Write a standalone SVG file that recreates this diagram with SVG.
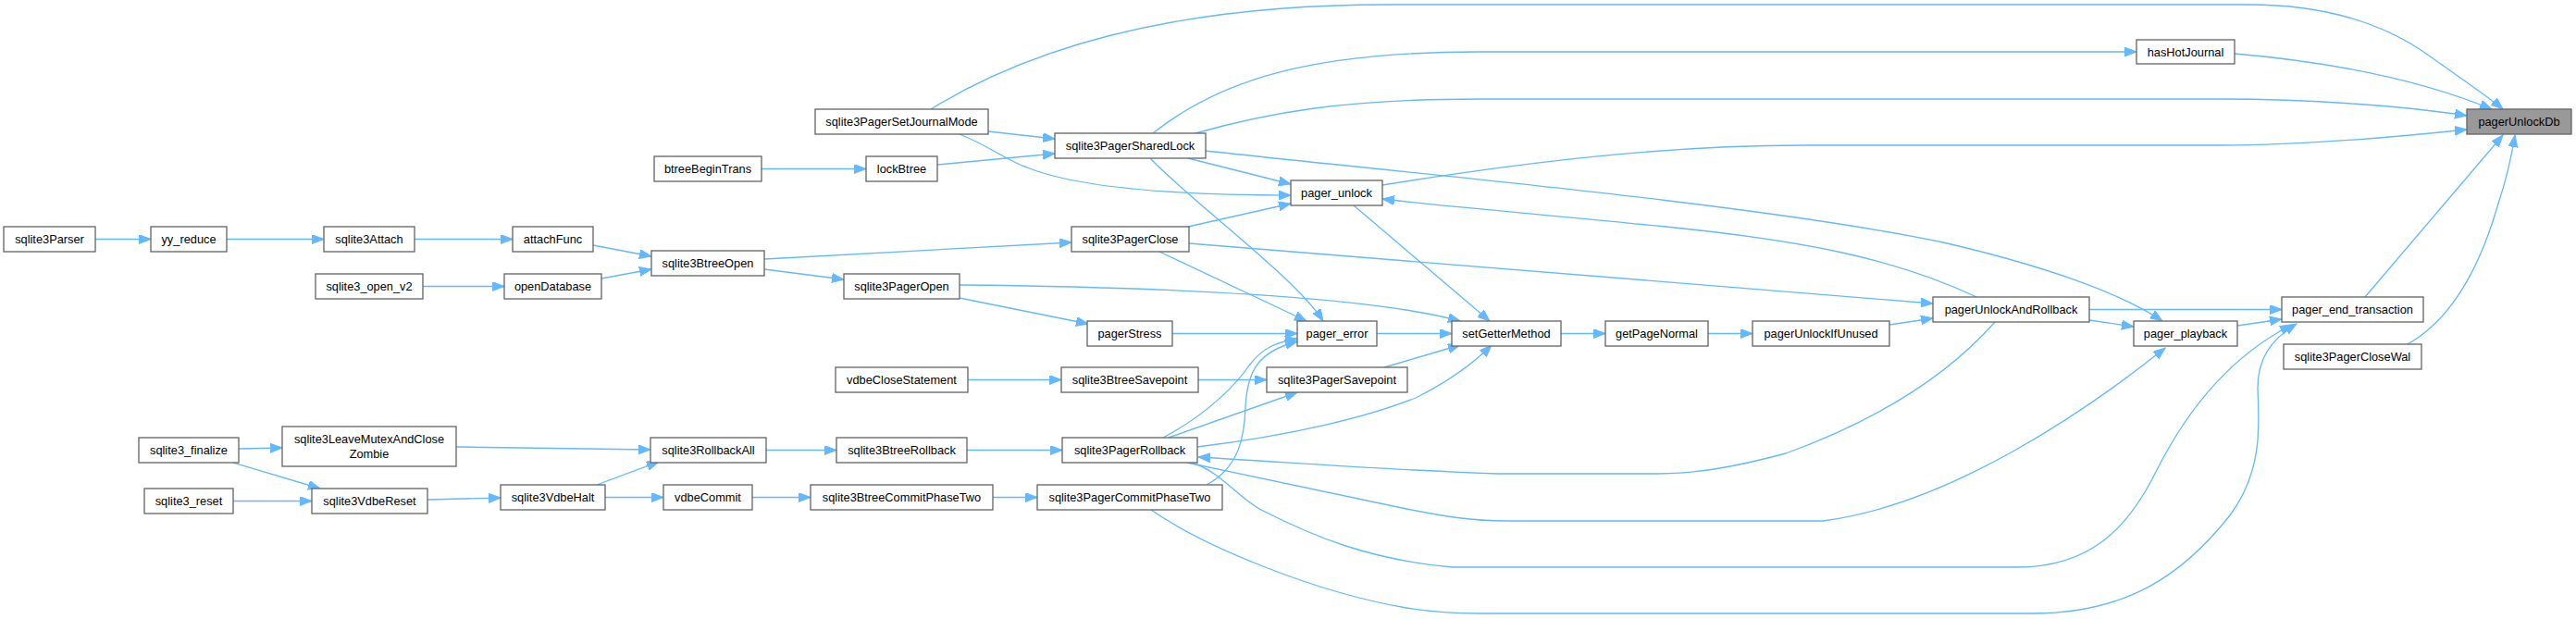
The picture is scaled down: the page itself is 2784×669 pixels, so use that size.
<svg xmlns="http://www.w3.org/2000/svg" width="2784" height="669" viewBox="0 0 2784 669">
<style>
.node rect{fill:#ffffff;stroke:#666666;stroke-width:1.33}
.root rect{fill:#999999;stroke:#666666;stroke-width:1.33}
text{font-family:"Liberation Sans",Arial,Helvetica,sans-serif;font-size:12.8px;text-anchor:middle;fill:#000000}
.edge path{fill:none;stroke:#63b8ff;stroke-width:1.33;marker-end:url(#arr)}
</style>
<defs>
<marker id="arr" markerUnits="userSpaceOnUse" markerWidth="14" markerHeight="11" refX="13" refY="5" orient="auto">
<path d="M0,0 L13,5 L0,10 z" fill="#63b8ff" stroke="#63b8ff" stroke-width="1"/>
</marker>
</defs>
<rect x="0" y="0" width="2784" height="669" fill="#ffffff"/>
<g id="edges" class="edge">
<path d="M103,258.5 L163,258.5"/>
<path d="M245,258.5 L350,258.5"/>
<path d="M448,258.5 L554,258.5"/>
<path d="M641,265 L704,277"/>
<path d="M457,309.5 L545,309.5"/>
<path d="M650,301 L704,291"/>
<path d="M826,280 L1158,262"/>
<path d="M826,291 L912,302"/>
<path d="M823,182.5 L936,182.5"/>
<path d="M1013,178 L1140,166"/>
<path d="M1068,142 L1140,150"/>
<path d="M1037,145 C1070,158 1085,172 1110,181 C1170,205 1290,211 1395,211"/>
<path d="M1006,118 C1100,60 1250,5 1500,5 L2430,5 C2530,5 2590,35 2625,60 C2660,85 2690,105 2705,118"/>
<path d="M1246,144 C1320,85 1420,56 1600,56 L2309,56"/>
<path d="M1292,144 C1370,122 1450,107 1600,107 L2400,107 C2500,107 2600,115 2666,125"/>
<path d="M1284,171 L1395,199"/>
<path d="M1243,171 C1290,220 1400,300 1430,347"/>
<path d="M1303,163 C1500,185 1900,220 2100,262 C2200,285 2290,315 2337,347"/>
<path d="M2415,58 C2530,68 2620,88 2693,118"/>
<path d="M1494,200 C1650,175 1800,157 1950,157 L2400,157 C2500,157 2600,147 2666,140"/>
<path d="M1284,245 L1395,220"/>
<path d="M1253,272 L1412,347"/>
<path d="M1285,263 L2089,328"/>
<path d="M1037,308 C1250,310 1480,320 1578,347"/>
<path d="M1037,322 L1176,350"/>
<path d="M1463,222 L1610,347"/>
<path d="M1267,360.5 L1402,360.5"/>
<path d="M1488,360.5 L1569,360.5"/>
<path d="M1687,360.5 L1735,360.5"/>
<path d="M1846,360.5 L1894,360.5"/>
<path d="M2042,351 L2089,344"/>
<path d="M2136,321 C2050,280 1950,260 1800,245 C1650,230 1550,222 1494,215"/>
<path d="M2156,348 C2110,400 2040,450 1930,490 C1870,506 1830,512 1790,512 L1620,512 C1500,508 1400,500 1295,494"/>
<path d="M1283,500 L1520,550 C1560,558 1590,563 1630,563 L1970,563 C2110,545 2260,440 2340,376"/>
<path d="M1288,500 C1320,510 1340,540 1365,552 C1420,580 1480,605 1570,613 L2180,613 C2260,613 2300,570 2330,510 C2370,430 2420,380 2477,351"/>
<path d="M1244,551 C1300,590 1420,640 1520,657 C1550,662 1570,663 1600,663 L2196,663 C2300,663 2360,620 2410,557 C2445,510 2442,460 2440,420 C2440,390 2452,368 2482,350"/>
<path d="M2418,352 L2466,345"/>
<path d="M2258,334.5 L2466,334.5"/>
<path d="M2258,346 L2306,353"/>
<path d="M2556,321 L2705,146"/>
<path d="M2602,372 C2650,345 2680,290 2700,220 C2710,190 2715,165 2718,146"/>
<path d="M1257,473 C1310,445 1340,410 1350,395 C1365,375 1380,370 1402,366"/>
<path d="M1304,524 C1340,505 1345,470 1346,440 C1348,400 1360,380 1402,369"/>
<path d="M1263,473 L1402,424"/>
<path d="M1295,410.5 L1369,410.5"/>
<path d="M1046,410.5 L1147,410.5"/>
<path d="M1496,397 L1578,373"/>
<path d="M1294,483 C1400,470 1480,450 1530,430 C1570,410 1595,390 1612,373"/>
<path d="M258,485 L305,484"/>
<path d="M252,500 L346,528"/>
<path d="M252,541.5 L337,541.5"/>
<path d="M462,540 L541,538"/>
<path d="M493,483 L703,486"/>
<path d="M645,524 L712,499"/>
<path d="M654,537.5 L717,537.5"/>
<path d="M828,486.5 L904,486.5"/>
<path d="M1045,486.5 L1148,486.5"/>
<path d="M813,537.5 L876,537.5"/>
<path d="M1073,537.5 L1121,537.5"/>
</g>
<g id="pagerUnlockDb" class="root"><rect x="2666" y="118" width="113" height="27"/><text x="2722.5" y="136">pagerUnlockDb</text></g>
<g id="hasHotJournal" class="node"><rect x="2309" y="43" width="106" height="26"/><text x="2362" y="60.5">hasHotJournal</text></g>
<g id="sqlite3PagerSetJournalMode" class="node"><rect x="881" y="118" width="187" height="27"/><text x="974.5" y="136">sqlite3PagerSetJournalMode</text></g>
<g id="sqlite3PagerSharedLock" class="node"><rect x="1140" y="144" width="163" height="27"/><text x="1221.5" y="162">sqlite3PagerSharedLock</text></g>
<g id="btreeBeginTrans" class="node"><rect x="707" y="169" width="116" height="27"/><text x="765" y="187">btreeBeginTrans</text></g>
<g id="lockBtree" class="node"><rect x="936" y="169" width="77" height="27"/><text x="974.5" y="187">lockBtree</text></g>
<g id="pager_unlock" class="node"><rect x="1395" y="195" width="99" height="27"/><text x="1444.5" y="213">pager_unlock</text></g>
<g id="sqlite3Parser" class="node"><rect x="4" y="245" width="99" height="27"/><text x="53.5" y="263">sqlite3Parser</text></g>
<g id="yy_reduce" class="node"><rect x="163" y="245" width="82" height="27"/><text x="204" y="263">yy_reduce</text></g>
<g id="sqlite3Attach" class="node"><rect x="350" y="245" width="98" height="27"/><text x="399" y="263">sqlite3Attach</text></g>
<g id="attachFunc" class="node"><rect x="554" y="245" width="87" height="27"/><text x="597.5" y="263">attachFunc</text></g>
<g id="sqlite3PagerClose" class="node"><rect x="1158" y="245" width="127" height="27"/><text x="1221.5" y="263">sqlite3PagerClose</text></g>
<g id="sqlite3BtreeOpen" class="node"><rect x="704" y="271" width="122" height="27"/><text x="765" y="289">sqlite3BtreeOpen</text></g>
<g id="sqlite3_open_v2" class="node"><rect x="341" y="296" width="116" height="27"/><text x="399" y="314">sqlite3_open_v2</text></g>
<g id="openDatabase" class="node"><rect x="545" y="296" width="105" height="27"/><text x="597.5" y="314">openDatabase</text></g>
<g id="sqlite3PagerOpen" class="node"><rect x="912" y="296" width="125" height="27"/><text x="974.5" y="314">sqlite3PagerOpen</text></g>
<g id="pagerUnlockAndRollback" class="node"><rect x="2089" y="321" width="169" height="27"/><text x="2173.5" y="339">pagerUnlockAndRollback</text></g>
<g id="pager_end_transaction" class="node"><rect x="2466" y="321" width="153" height="27"/><text x="2542.5" y="339">pager_end_transaction</text></g>
<g id="pagerStress" class="node"><rect x="1175" y="347" width="92" height="27"/><text x="1221" y="365">pagerStress</text></g>
<g id="pager_error" class="node"><rect x="1402" y="347" width="86" height="27"/><text x="1445" y="365">pager_error</text></g>
<g id="setGetterMethod" class="node"><rect x="1569" y="347" width="118" height="27"/><text x="1628" y="365">setGetterMethod</text></g>
<g id="getPageNormal" class="node"><rect x="1735" y="347" width="111" height="27"/><text x="1790.5" y="365">getPageNormal</text></g>
<g id="pagerUnlockIfUnused" class="node"><rect x="1894" y="347" width="148" height="27"/><text x="1968" y="365">pagerUnlockIfUnused</text></g>
<g id="pager_playback" class="node"><rect x="2306" y="347" width="112" height="27"/><text x="2362" y="365">pager_playback</text></g>
<g id="sqlite3PagerCloseWal" class="node"><rect x="2468" y="372" width="149" height="27"/><text x="2542.5" y="390">sqlite3PagerCloseWal</text></g>
<g id="vdbeCloseStatement" class="node"><rect x="903" y="397" width="143" height="27"/><text x="974.5" y="415">vdbeCloseStatement</text></g>
<g id="sqlite3BtreeSavepoint" class="node"><rect x="1147" y="397" width="148" height="27"/><text x="1221" y="415">sqlite3BtreeSavepoint</text></g>
<g id="sqlite3PagerSavepoint" class="node"><rect x="1369" y="397" width="152" height="27"/><text x="1445" y="415">sqlite3PagerSavepoint</text></g>
<g id="sqlite3_finalize" class="node"><rect x="150" y="473" width="108" height="27"/><text x="204" y="491">sqlite3_finalize</text></g>
<g id="sqlite3LeaveMutexAndCloseZombie" class="node"><rect x="305" y="461" width="188" height="43"/><text x="399" y="479">sqlite3LeaveMutexAndClose</text><text x="399" y="495">Zombie</text></g>
<g id="sqlite3RollbackAll" class="node"><rect x="703" y="473" width="125" height="27"/><text x="765.5" y="491">sqlite3RollbackAll</text></g>
<g id="sqlite3BtreeRollback" class="node"><rect x="904" y="473" width="141" height="27"/><text x="974.5" y="491">sqlite3BtreeRollback</text></g>
<g id="sqlite3PagerRollback" class="node"><rect x="1148" y="473" width="146" height="27"/><text x="1221" y="491">sqlite3PagerRollback</text></g>
<g id="sqlite3_reset" class="node"><rect x="156" y="528" width="96" height="27"/><text x="204" y="546">sqlite3_reset</text></g>
<g id="sqlite3VdbeReset" class="node"><rect x="337" y="528" width="125" height="27"/><text x="399.5" y="546">sqlite3VdbeReset</text></g>
<g id="sqlite3VdbeHalt" class="node"><rect x="541" y="524" width="113" height="27"/><text x="597.5" y="542">sqlite3VdbeHalt</text></g>
<g id="vdbeCommit" class="node"><rect x="717" y="524" width="96" height="27"/><text x="765" y="542">vdbeCommit</text></g>
<g id="sqlite3BtreeCommitPhaseTwo" class="node"><rect x="876" y="524" width="197" height="27"/><text x="974.5" y="542">sqlite3BtreeCommitPhaseTwo</text></g>
<g id="sqlite3PagerCommitPhaseTwo" class="node"><rect x="1121" y="524" width="200" height="27"/><text x="1221" y="542">sqlite3PagerCommitPhaseTwo</text></g>
</svg>
